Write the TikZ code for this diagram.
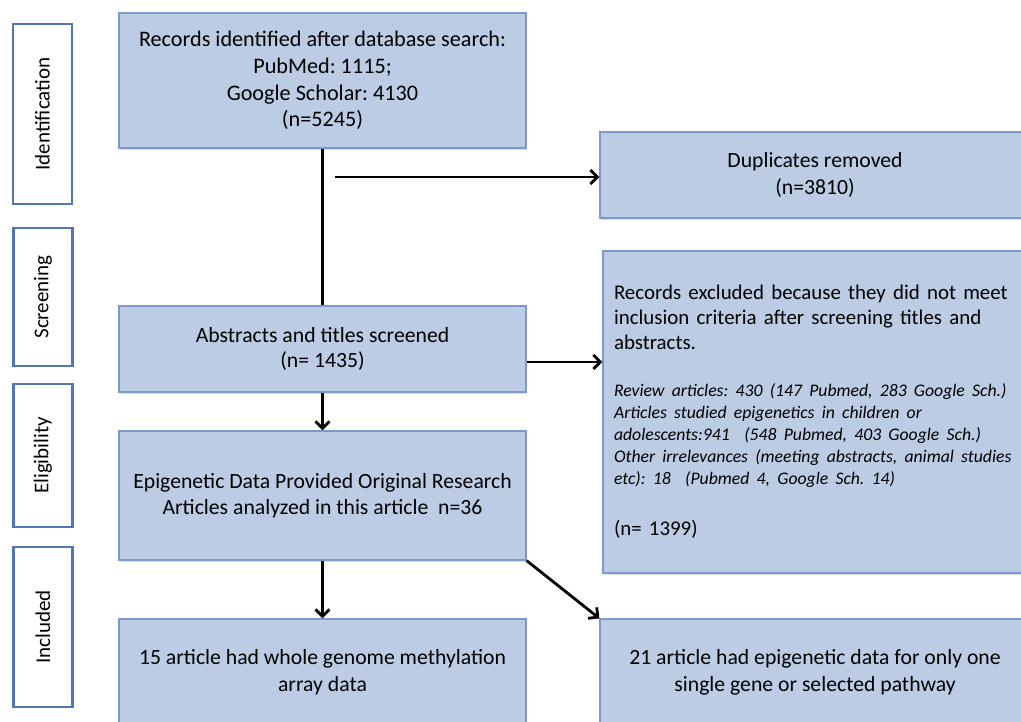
\documentclass[tikz,border=0pt]{standalone}
\usepackage{fontspec}
\setmainfont{Carlito}
\usetikzlibrary{arrows.meta,shadows}
\definecolor{boxfill}{RGB}{187,204,228}
\definecolor{boxline}{RGB}{124,153,204}
\definecolor{lblline}{RGB}{79,117,187}
\tikzset{
  mainbox/.style={draw=boxline, line width=1.2pt, fill=boxfill, align=center, inner sep=0pt,
    drop shadow={opacity=0.25, shadow xshift=0.8pt, shadow yshift=-1.6pt},
    font=\fontsize{21.7}{26.5}\selectfont},
  lblbox/.style={draw=lblline, line width=2.4pt, fill=white, rotate=90, inner sep=0pt,
    minimum height=59pt, font=\fontsize{21}{24}\selectfont},
  arr/.style={line width=2.8pt, -{Straight Barb[length=7pt,width=14pt,line width=2.8pt]}},
  conn/.style={line width=2.8pt}
}
\begin{document}
\begin{tikzpicture}[x=1pt,y=-1pt]
\frenchspacing
\useasboundingbox (0,0) rectangle (1021,721);
% phase labels
\node[lblbox, minimum width=180pt] (lid) at (42.5,114) {Identification};
\node[lblbox, minimum width=138pt] (lsc) at (43,297) {Screening};
\node[lblbox, minimum width=143pt] (lel) at (43,455.5) {Eligibility};
\node[lblbox, minimum width=160pt] (lin) at (43,627) {Included};
% main boxes
\node[mainbox, minimum width=407pt, minimum height=135pt, font=\fontsize{22.2}{26.7}\selectfont] (A) at (322.5,80.5)
  {Records identified after database search:\\PubMed: 1115;\\Google Scholar: 4130\\(n=5245)};
\node[mainbox, minimum width=430pt, minimum height=86pt] (dup) at (815,175)
  {Duplicates removed\\(n=3810)};
\node[mainbox, minimum width=407pt, minimum height=86pt, font=\fontsize{21.7}{25}\selectfont] (B) at (322.5,349)
  {Abstracts and titles screened\\(n= 1435)};
\node[mainbox, minimum width=427pt, minimum height=322pt, text width=405pt, align=left] (X) at (816.5,412)
  {\raggedright\fontsize{20.9}{25}\selectfont Records excluded because they did not meet\\inclusion criteria after screening titles and\\abstracts.\par
   \vspace{25pt}{\itshape\fontsize{17.7}{22}\selectfont Review articles: 430 (147 Pubmed, 283 Google Sch.)\\Articles studied epigenetics in children or\\adolescents:941\ \ (548 Pubmed, 403 Google Sch.)\\Other irrelevances (meeting abstracts, animal studies\\etc): 18\ \ (Pubmed 4, Google Sch. 14)\par}
   \vspace{26pt}(n= 1399)\par\vspace{-6pt}};
\node[mainbox, minimum width=407pt, minimum height=129pt, font=\fontsize{21.7}{26}\selectfont] (C) at (322.5,495.5)
  {Epigenetic Data Provided Original Research\\Articles analyzed in this article\ \ n=36};
\node[mainbox, minimum width=407pt, minimum height=106pt, font=\fontsize{21.7}{27}\selectfont] (D) at (322.5,672)
  {15 article had whole genome methylation\\array data};
\node[mainbox, minimum width=430pt, minimum height=106pt, font=\fontsize{21.7}{27}\selectfont] (E) at (815,672)
  {21 article had epigenetic data for only one\\single gene or selected pathway};
% connectors
\coordinate (s) at (335,177);
\draw[conn] (A.south) -- (B.north);
\draw[arr] (s) -- (s -| dup.west);
\draw[arr] ([yshift=-13pt]B.east) -- ([yshift=-13pt]B.east -| X.west);
\draw[arr] (B.south) -- (C.north);
\draw[arr] (C.south) -- (D.north);
\draw[arr] (C.south east) -- (E.north west);
\end{tikzpicture}
\end{document}
